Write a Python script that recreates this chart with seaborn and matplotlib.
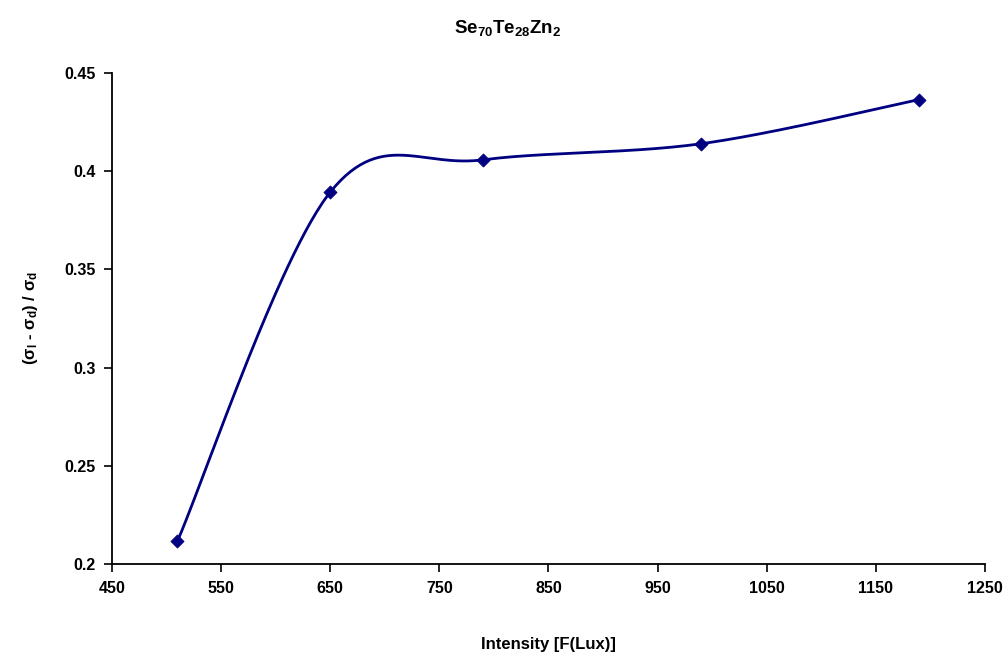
import numpy as np
import pandas as pd
import matplotlib
matplotlib.use('Agg')
import matplotlib.pyplot as plt
import seaborn as sns

# data
intensity = [510, 650, 790, 990, 1190]
photo_ratio = [0.2116, 0.3893, 0.4058, 0.4140, 0.4365]
x_ticks = [450, 550, 650, 750, 850, 950, 1050, 1150, 1250]
y_ticks = [0.2, 0.25, 0.3, 0.35, 0.4, 0.45]


def excel_smooth(xs, ys, n=60):
    # bezier smoothing like Excel's "smoothed line" (tangent factor 1/6)
    p = np.column_stack([xs, ys]).astype(float)
    out = []
    for i in range(len(p) - 1):
        p0 = p[i - 1] if i > 0 else p[i]
        p3 = p[i + 2] if i + 2 < len(p) else p[i + 1]
        c1 = p[i] + (p[i + 1] - p0) / 6
        c2 = p[i + 1] - (p3 - p[i]) / 6
        t = np.linspace(0, 1, n)[:, None]
        seg = ((1 - t) ** 3 * p[i] + 3 * (1 - t) ** 2 * t * c1
               + 3 * (1 - t) * t ** 2 * c2 + t ** 3 * p[i + 1])
        out.append(seg if i == 0 else seg[1:])
    return np.vstack(out)


sns.set_style('ticks')
plt.rcParams['font.family'] = ['Liberation Sans', 'DejaVu Sans']
plt.rcParams['font.weight'] = 'bold'
plt.rcParams['text.color'] = 'black'
plt.rcParams['axes.labelcolor'] = 'black'
plt.rcParams['mathtext.fontset'] = 'custom'
plt.rcParams['mathtext.rm'] = 'Liberation Sans:bold'
plt.rcParams['mathtext.it'] = 'Liberation Sans:bold'
plt.rcParams['mathtext.bf'] = 'Liberation Sans:bold'
plt.rcParams['mathtext.default'] = 'rm'

df = pd.DataFrame({'intensity': intensity, 'ratio': photo_ratio})
curve = excel_smooth(df['intensity'], df['ratio'])
curve_df = pd.DataFrame({'x': curve[:, 0], 'y': curve[:, 1]})

fig = plt.figure(figsize=(10.05, 6.55), dpi=100)
ax = fig.add_axes([0.1114, 0.139, 0.8686, 0.7495])

sns.lineplot(data=curve_df, x='x', y='y', sort=False, color='#000080',
             linewidth=2, ax=ax)
sns.scatterplot(data=df, x='intensity', y='ratio', marker='D', s=45,
                color='#000080', edgecolor='#000080', zorder=3, ax=ax)

ax.set_xlim(450, 1250)
ax.set_ylim(0.2, 0.45)
ax.set_xticks(x_ticks)
ax.set_yticks(y_ticks)
ax.set_xticklabels([str(v) for v in x_ticks], fontsize=11.5, fontweight='bold')
ax.set_yticklabels(['0.2', '0.25', '0.3', '0.35', '0.4', '0.45'],
                   fontsize=11.5, fontweight='bold')
ax.tick_params(direction='out', length=6, width=1.2, colors='black', pad=6)
for s in ['left', 'bottom']:
    ax.spines[s].set_linewidth(1.3)
    ax.spines[s].set_color('black')
sns.despine(ax=ax)

ax.set_xlabel('Intensity [F(Lux)]', fontsize=12, fontweight='bold', labelpad=30)
ax.set_ylabel(r'(σ$_{l}$ - σ$_{d}$) / σ$_{d}$', fontsize=12,
              fontweight='bold', labelpad=17)
# title sits over the figure centre, not the axes centre
fig.text(0.505, 0.958, r'Se$_{70}$Te$_{28}$Zn$_{2}$', fontsize=13.5,
         fontweight='bold', ha='center', va='center')

fig.savefig('out.png', dpi=100)
